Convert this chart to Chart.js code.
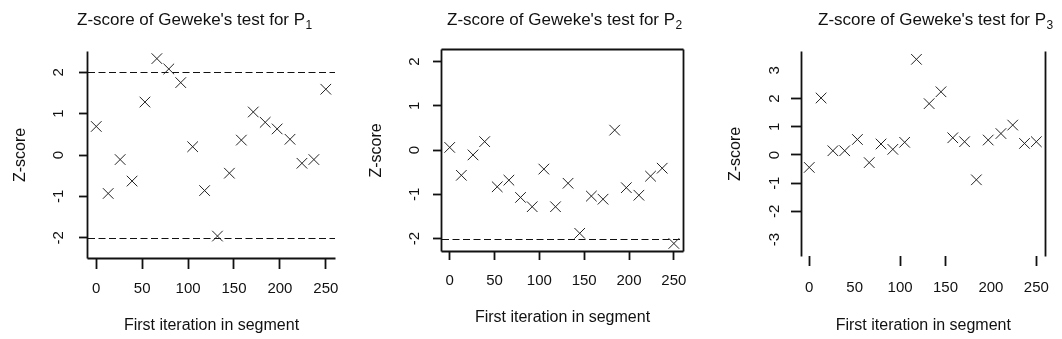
<!DOCTYPE html>
<html>
<head>
<meta charset="utf-8">
<script src="https://cdn.jsdelivr.net/npm/chart.js@4.4.1/dist/chart.umd.min.js"></script>
<style>
  html, body { margin: 0; padding: 0; background: #fff; }
  #wrap { position: relative; width: 1062px; height: 339px; overflow: hidden; }
  canvas { position: absolute; top: 0; }
</style>
</head>
<body>
<div id="wrap">
  <canvas id="p1" width="354" height="339" style="left:0px"></canvas>
  <canvas id="p2" width="354" height="339" style="left:354px"></canvas>
  <canvas id="p3" width="354" height="339" style="left:708px"></canvas>
</div>
<script>
// first iteration of each segment (shared by the three chains)
const segStart = [0, 13, 26, 39, 53, 66, 79, 92, 105, 118, 132, 145, 158, 171, 184, 197, 211, 224, 237, 250];

// Geweke z-scores
const zP1 = [0.69, -0.93, -0.11, -0.63, 1.28, 2.33, 2.08, 1.75, 0.20, -0.86, -1.96, -0.44, 0.36, 1.04, 0.79, 0.63, 0.38, -0.20, -0.11, 1.59];
const zP2 = [0.06, -0.57, -0.11, 0.19, -0.83, -0.68, -1.07, -1.28, -0.43, -1.28, -0.75, -1.88, -1.04, -1.11, 0.45, -0.85, -1.02, -0.59, -0.41, -2.11];
const zP3 = [-0.44, 2.02, 0.15, 0.15, 0.55, -0.27, 0.39, 0.20, 0.45, 3.39, 1.82, 2.24, 0.61, 0.47, -0.88, 0.53, 0.76, 1.06, 0.41, 0.47];

// dashed reference levels drawn in each panel
const refP1 = [-2, 2];
const refP2 = [-2];
const refP3 = [];

const xTicks = [0, 50, 100, 150, 200, 250];
const zTicks = [-2, -1, 0, 1, 2];
const zTicksWide = [-3, -2, -1, 0, 1, 2, 3];

const titleText = "Z-score of Geweke's test for P";
const xTitle = 'First iteration in segment';
const yTitle = 'Z-score';

const FONT = '"Liberation Sans", Arial, sans-serif';
Chart.defaults.font.family = FONT;
Chart.defaults.color = '#111';

// title with a subscript, like R's expression(P[1])
const rTitle = {
  id: 'rTitle',
  afterDraw(chart, args, opts) {
    const ctx = chart.ctx;
    ctx.save();
    ctx.fillStyle = '#111';
    ctx.textBaseline = 'alphabetic';
    ctx.textAlign = 'left';
    ctx.font = '17px ' + FONT;
    ctx.fillText(opts.text, opts.left, opts.baseline);
    const w = ctx.measureText(opts.text).width;
    ctx.font = '12px ' + FONT;
    ctx.fillText(opts.sub, opts.left + w + 0.5, opts.baseline + 3.5);
    ctx.restore();
  }
};

const refLines = {
  id: 'refLines',
  beforeDatasetsDraw(chart, args, opts) {
    const {ctx, chartArea: {left, right}, scales: {y}} = chart;
    ctx.save();
    ctx.strokeStyle = '#111';
    ctx.lineWidth = 1.2;
    ctx.setLineDash([7, 3.5]);
    opts.values.forEach(v => {
      const py = Math.round(y.getPixelForValue(v)) + 0.5;
      ctx.beginPath();
      ctx.moveTo(left, py);
      ctx.lineTo(right, py);
      ctx.stroke();
    });
    ctx.restore();
  }
};

// box sides (bty) around the plot region
const frame = {
  id: 'frame',
  afterDatasetsDraw(chart, args, opts) {
    const {ctx, chartArea: a} = chart;
    const L = Math.round(a.left) - 0.5, R = Math.round(a.right) + 0.5;
    const T = Math.round(a.top) - 0.5, B = Math.round(a.bottom) + 0.5;
    ctx.save();
    ctx.strokeStyle = '#111';
    ctx.lineWidth = 1.8;
    ctx.beginPath();
    if (opts.sides.includes('left')) { ctx.moveTo(L, T); ctx.lineTo(L, B); }
    if (opts.sides.includes('bottom')) { ctx.moveTo(L, B); ctx.lineTo(R, B); }
    if (opts.sides.includes('right')) { ctx.moveTo(R, T); ctx.lineTo(R, B); }
    if (opts.sides.includes('top')) { ctx.moveTo(L, T); ctx.lineTo(R, T); }
    ctx.stroke();
    ctx.restore();
  }
};

function panel(id, o) {
  const hideX = o.hideX || [];
  const hideY = o.hideY || [];
  return new Chart(document.getElementById(id), {
    type: 'scatter',
    data: {
      datasets: [{
        data: segStart.map((v, i) => ({x: v, y: o.z[i]})),
        pointStyle: 'crossRot',
        pointRadius: 7.5,
        pointHoverRadius: 7.5,
        borderColor: '#222',
        backgroundColor: 'transparent',
        borderWidth: 1
      }]
    },
    options: {
      responsive: false,
      animation: false,
      devicePixelRatio: 1,
      events: [],
      layout: {padding: o.pad},
      plugins: {
        legend: {display: false},
        tooltip: {enabled: false},
        rTitle: {text: titleText, sub: o.sub, left: o.titleLeft, baseline: 25},
        refLines: {values: o.refs},
        frame: {sides: o.sides}
      },
      scales: {
        x: {
          type: 'linear',
          position: 'bottom',
          min: o.xMin,
          max: o.xMax,
          afterBuildTicks: s => { s.ticks = xTicks.map(v => ({value: v})); },
          afterFit: s => { s.height = o.xH; },
          border: {display: false},
          grid: {
            drawOnChartArea: false,
            drawTicks: true,
            tickLength: o.xTL,
            tickWidth: 1.8,
            tickColor: c => hideX.includes(c.tick.value) ? 'rgba(0,0,0,0)' : '#111'
          },
          ticks: {
            autoSkip: false, minRotation: 0, maxRotation: 0,
            padding: o.xTP, font: {size: 15}, color: '#111',
            callback: v => String(v)
          },
          title: {
            display: true, text: xTitle, color: '#111',
            font: {size: 16}, padding: {top: 0, bottom: o.xTitlePad}
          }
        },
        y: {
          type: 'linear',
          position: 'left',
          min: o.yMin,
          max: o.yMax,
          afterBuildTicks: s => { s.ticks = o.yTicks.map(v => ({value: v})); },
          afterFit: s => { s.width = o.yW; },
          border: {display: false},
          grid: {
            drawOnChartArea: false,
            drawTicks: true,
            tickLength: o.yTL,
            tickWidth: 1.8,
            tickColor: c => hideY.includes(c.tick.value) ? 'rgba(0,0,0,0)' : '#111'
          },
          ticks: {
            autoSkip: false, minRotation: 90, maxRotation: 90,
            crossAlign: 'center',
            padding: o.yTP, font: {size: 15}, color: '#111',
            callback: v => String(v)
          },
          title: {
            display: true, text: yTitle, color: '#111',
            font: {size: 16}, padding: {top: o.yTitlePad, bottom: 0}
          }
        }
      }
    },
    plugins: [rTitle, refLines, frame]
  });
}

panel('p1', {
  z: zP1, refs: refP1, sub: '1', titleLeft: 77, sides: ['left', 'bottom'],
  pad: {left: 0, top: 52, right: 19, bottom: 0},
  xMin: -9, xMax: 260, yMin: -2.49, yMax: 2.49, yTicks: zTicks,
  yW: 88, xH: 81, yTL: 9, yTP: 13.8, xTL: 11, xTP: 10.9,
  xTitlePad: 3.4, yTitlePad: 11.4
});

panel('p2', {
  z: zP2, refs: refP2, sub: '2', titleLeft: 93, sides: ['left', 'bottom', 'right', 'top'],
  pad: {left: 0, top: 50, right: 25, bottom: 0},
  xMin: -8.6, xMax: 260.2, yMin: -2.28, yMax: 2.26, yTicks: zTicks,
  yW: 88, xH: 88, yTL: 9, yTP: 11.8, xTL: 9, xTP: 11.9,
  xTitlePad: 11.4, yTitlePad: 13.4
});

panel('p3', {
  z: zP3, refs: refP3, sub: '3', titleLeft: 110, sides: ['left', 'right'],
  pad: {left: 0, top: 52, right: 16, bottom: 0},
  xMin: -8, xMax: 259.1, yMin: -3.58, yMax: 3.65, yTicks: zTicksWide,
  hideX: [50, 200], hideY: [-3, 3],
  yW: 94, xH: 83, yTL: 11, yTP: 9.8, xTL: 10, xTP: 12.6,
  xTitlePad: 3.4, yTitlePad: 18.4
});
</script>
</body>
</html>
